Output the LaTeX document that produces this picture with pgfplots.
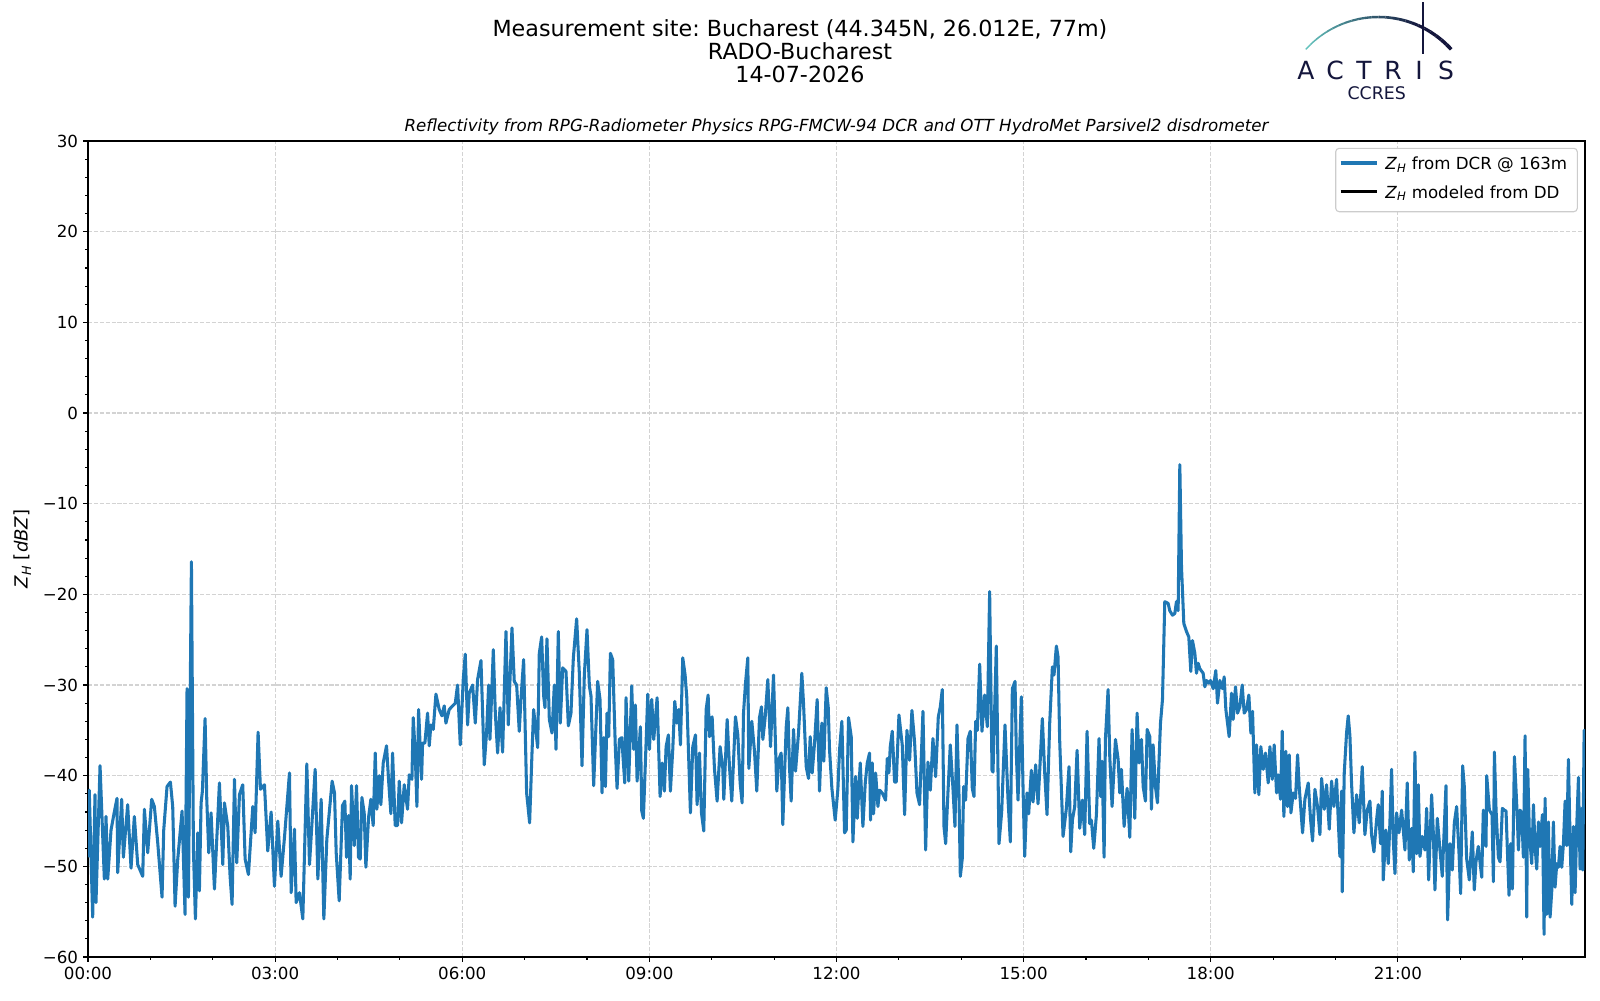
\documentclass[border=0pt]{standalone}
\usepackage{fontspec}
\setmainfont{DejaVu Sans}
\usepackage{pgfplots}
\pgfplotsset{compat=1.18}
\frenchspacing
\definecolor{tabblue}{HTML}{1F77B4}
\definecolor{lnavy}{HTML}{14163C}
\definecolor{lteal}{HTML}{62C2BC}
\definecolor{gridgray}{HTML}{D3D3D3}
\definecolor{legedge}{HTML}{CCCCCC}
\newcommand\ZH{\textit{Z}\textsubscript{\textit{H}}}
\begin{document}
\begin{tikzpicture}[x=0.72bp,y=-0.72bp]
\path[use as bounding box] (0,0) rectangle (1600,1000);
\begin{axis}[
  at={(63.36bp,-689.04bp)}, anchor=south west,
  scale only axis, width=1077.84bp, height=587.52bp,
  xmin=0, xmax=24, ymin=-60, ymax=30,
  xtick={0,3,...,21},
  xticklabels={00:00,03:00,06:00,09:00,12:00,15:00,18:00,21:00},
  minor xtick={1,2,4,5,7,8,10,11,13,14,16,17,19,20,22,23},
  ytick={-60,-50,...,30},
  yticklabels={−60,−50,−40,−30,−20,−10,0,10,20,30},
  minor y tick num=4,
  tick pos=left, tick align=outside,
  major tick length=3.5bp, minor tick length=2bp,
  every tick/.style={black, line width=0.8bp},
  axis line style={line width=0.8bp},
  grid=major,
  major grid style={gridgray, line width=0.8bp, dash pattern=on 2.96bp off 1.28bp},
  tick label style={font=\fontsize{12bp}{14bp}\selectfont},
  xticklabel style={inner sep=0pt, yshift=-3.5bp},
  yticklabel style={inner sep=0pt, xshift=-3.5bp},
]
\addplot[tabblue, line width=2.2bp, line join=round] coordinates {
(0,-49)(0.02,-41.6)(0.075,-55.6)(0.112,-42.1)(0.128,-54.0)(0.193,-38.9)(0.262,-51.4)(0.289,-44.5)(0.316,-51.4)(0.369,-46.0)
(0.422,-44.0)(0.465,-42.5)(0.476,-50.7)(0.540,-42.6)(0.567,-49.0)(0.636,-43.2)(0.690,-50.2)(0.743,-44.5)(0.797,-49.8)(0.877,-51.1)
(0.904,-43.7)(0.957,-48.5)(1.021,-42.6)(1.064,-43.4)(1.118,-47.4)(1.187,-53.4)(1.214,-46.0)(1.267,-41.2)(1.321,-40.7)(1.358,-43.4)
(1.396,-54.4)(1.439,-49.2)(1.508,-43.9)(1.556,-55.3)(1.588,-30.4)(1.610,-53.4)(1.658,-16.4)(1.690,-48.1)(1.722,-55.8)(1.760,-46.3)
(1.786,-52.7)(1.813,-43.0)(1.834,-41.7)(1.877,-33.7)(1.904,-42.6)(1.936,-48.5)(1.973,-44.1)(2.027,-52.5)(2.107,-40.8)(2.161,-49.8)
(2.187,-43.0)(2.241,-45.6)(2.278,-51.1)(2.310,-54.2)(2.348,-40.4)(2.385,-49.6)(2.428,-42.1)(2.481,-41.0)(2.519,-49.2)(2.572,-50.9)
(2.642,-43.4)(2.679,-46.3)(2.727,-35.2)(2.765,-41.5)(2.829,-41.0)(2.882,-48.3)(2.936,-44.0)(2.989,-52.2)(3.043,-45.0)(3.096,-51.1)
(3.150,-46.8)(3.230,-39.7)(3.257,-52.9)(3.310,-45.9)(3.337,-54.0)(3.390,-52.9)(3.444,-55.8)(3.508,-38.7)(3.551,-49.8)(3.642,-39.3)
(3.685,-51.4)(3.738,-42.6)(3.781,-55.8)(3.829,-47.0)(3.914,-40.6)(3.952,-41.9)(3.979,-48.5)
(4.027,-53.8)(4.080,-43.3)(4.118,-42.8)(4.145,-49.0)(4.177,-44.4)(4.203,-51.4)(4.225,-41.1)(4.268,-47.7)(4.305,-41.1)(4.337,-49.0)
(4.364,-49.2)(4.391,-42.4)(4.428,-44.1)(4.455,-50.1)(4.498,-44.6)(4.535,-42.6)(4.572,-45.5)(4.605,-37.5)(4.631,-43.7)(4.669,-40.0)
(4.695,-43.2)(4.733,-38.6)(4.786,-36.7)(4.818,-40.4)(4.856,-44.2)(4.883,-37.5)(4.925,-45.5)(4.963,-45.5)(4.990,-40.6)(5.027,-45.2)
(5.070,-41.0)(5.123,-43.7)(5.150,-39.9)(5.193,-40.4)(5.214,-33.6)(5.246,-37.5)(5.273,-43.4)(5.300,-32.7)(5.348,-40.4)(5.364,-36.4)
(5.401,-36.4)(5.444,-33.1)(5.471,-36.7)(5.497,-34.4)(5.535,-34.9)(5.578,-31.0)(5.631,-32.7)(5.674,-33.4)(5.711,-32.3)(5.738,-34.2)
(5.791,-32.7)(5.845,-32.3)(5.888,-32.0)(5.925,-30.0)(5.968,-36.6)(6.016,-29.4)(6.048,-26.6)(6.086,-34.4)(6.112,-30.9)(6.166,-30.0)
(6.209,-34.2)(6.246,-29.4)(6.300,-27.3)(6.353,-38.8)(6.391,-35.1)(6.423,-30.0)(6.444,-36.0)(6.498,-26.1)(6.530,-33.1)(6.567,-37.5)
(6.605,-32.5)(6.647,-37.4)(6.701,-24.1)(6.738,-34.4)(6.797,-23.7)(6.834,-29.6)(6.872,-30.0)(6.914,-35.1)(6.941,-31.6)(6.984,-27.2)
(7.032,-41.9)(7.080,-45.2)(7.118,-37.5)(7.144,-32.7)(7.209,-36.9)(7.235,-26.5)(7.273,-24.7)(7.305,-31.2)(7.326,-32.5)(7.358,-24.9)
(7.396,-33.8)(7.439,-35.3)(7.476,-30.0)(7.503,-37.1)(7.540,-24.1)(7.572,-34.2)(7.610,-28.1)(7.663,-28.5)(7.701,-34.5)(7.743,-33.1)
(7.781,-27.0)(7.834,-22.7)(7.877,-28.7)(7.920,-38.9)(7.957,-28.9)(8.000,-23.9)(8.038,-30.1)(8.064,-31.2)(8.107,-41.1)(8.171,-29.6)
(8.209,-31.6)(8.241,-41.9)(8.268,-35.8)(8.295,-41.2)(8.321,-33.1)(8.348,-35.7)(8.375,-26.5)(8.412,-27.2)(8.455,-37.1)(8.482,-41.4)
(8.519,-36.0)(8.557,-35.8)(8.605,-40.8)(8.626,-31.4)(8.669,-40.6)(8.717,-30.1)(8.749,-37.1)(8.776,-32.2)(8.803,-40.6)(8.856,-34.6)
(8.878,-43.9)(8.904,-44.7)(8.947,-36.4)(8.974,-31.0)(9.001,-37.1)(9.038,-31.6)(9.070,-36.0)(9.124,-31.4)(9.172,-42.3)(9.204,-38.6)
(9.241,-41.7)(9.268,-36.8)(9.305,-35.5)(9.337,-41.7)(9.375,-37.1)(9.407,-31.8)(9.439,-34.2)(9.471,-32.7)(9.498,-36.6)(9.535,-27.0)
(9.573,-28.9)(9.599,-31.3)(9.658,-44.1)(9.696,-36.8)(9.739,-35.5)(9.765,-43.2)(9.803,-37.5)(9.835,-44.1)(9.872,-46.1)(9.910,-32.7)
(9.942,-31.1)(9.963,-35.7)(10.006,-33.5)(10.043,-39.2)(10.086,-42.8)(10.134,-36.8)(10.177,-39.2)(10.193,-42.6)(10.247,-33.8)(10.284,-39.0)
(10.321,-42.8)(10.380,-33.5)(10.418,-35.5)(10.455,-40.8)(10.487,-43.0)(10.509,-33.1)(10.541,-29.8)(10.578,-27.0)(10.594,-39.2)(10.642,-34.0)
(10.685,-37.3)(10.722,-41.7)(10.765,-33.6)(10.797,-32.4)(10.819,-36.0)(10.856,-33.6)(10.899,-29.4)(10.942,-36.8)(10.990,-28.9)(11.043,-41.7)
(11.075,-38.2)(11.113,-37.5)(11.139,-45.4)(11.193,-34.7)(11.220,-32.5)(11.246,-39.0)(11.273,-42.8)(11.311,-34.9)(11.343,-39.5)(11.391,-35.3)
(11.444,-28.7)(11.471,-32.0)(11.514,-39.0)(11.551,-40.3)(11.578,-35.7)(11.610,-39.7)(11.648,-36.4)(11.690,-31.6)(11.728,-41.7)(11.765,-34.2)
(11.797,-38.4)(11.835,-30.3)(11.867,-32.4)(11.888,-37.1)(11.926,-41.4)(11.979,-44.9)(12.022,-41.5)(12.049,-37.1)(12.086,-34.0)(12.129,-46.3)
(12.156,-46.0)(12.193,-33.6)(12.236,-35.7)(12.263,-47.3)(12.306,-40.1)(12.332,-44.7)(12.381,-38.6)(12.423,-45.6)(12.461,-40.8)(12.493,-38.6)
(12.530,-37.5)(12.546,-44.9)(12.573,-38.6)(12.594,-44.2)(12.627,-39.7)(12.664,-43.4)(12.691,-41.6)(12.733,-41.9)(12.787,-42.7)(12.814,-38.1)
(12.840,-39.7)(12.862,-36.8)(12.894,-35.1)(12.931,-40.7)(12.958,-40.7)(13.001,-33.3)(13.028,-35.0)(13.054,-36.6)(13.092,-44.3)(13.129,-35.0)
(13.172,-38.3)(13.209,-32.8)(13.252,-36.3)(13.290,-41.9)(13.332,-43.2)(13.386,-32.9)(13.429,-48.2)(13.466,-38.5)(13.504,-41.6)(13.546,-35.9)
(13.589,-40.1)(13.632,-33.5)(13.664,-32.4)(13.696,-30.5)(13.723,-45.6)(13.750,-47.5)(13.787,-41.8)(13.824,-36.6)(13.867,-41.4)(13.899,-45.6)
(13.931,-34.4)(13.963,-41.9)(13.985,-51.1)(14.017,-49.1)(14.038,-41.2)(14.070,-42.7)(14.108,-35.9)(14.145,-35.1)(14.177,-41.4)(14.204,-42.3)
(14.231,-34.0)(14.258,-35.0)(14.295,-27.7)(14.332,-35.1)(14.375,-31.1)(14.418,-34.6)(14.455,-19.7)(14.493,-39.4)(14.509,-39.6)(14.562,-25.7)
(14.605,-47.5)(14.648,-44.0)(14.701,-34.4)(14.749,-42.5)(14.787,-47.3)(14.819,-30.4)(14.862,-29.6)(14.883,-37.5)(14.910,-42.7)(14.963,-31.3)
(14.990,-41.2)(15.017,-48.9)(15.054,-41.9)(15.081,-44.2)(15.124,-39.4)(15.151,-42.9)(15.193,-38.8)(15.231,-43.1)(15.300,-33.7)(15.338,-39.7)
(15.375,-44.3)(15.418,-34.2)(15.461,-28.0)(15.487,-28.9)(15.525,-25.7)(15.552,-26.9)(15.578,-36.1)(15.605,-41.4)(15.632,-46.7)(15.685,-43.6)
(15.728,-39.0)(15.755,-48.4)(15.782,-44.9)(15.819,-43.4)(15.857,-37.2)(15.899,-45.8)(15.942,-42.7)(15.979,-46.5)(16.017,-35.1)(16.060,-45.3)
(16.086,-44.9)(16.124,-48.0)(16.167,-44.3)(16.209,-35.9)(16.236,-42.3)(16.258,-38.4)(16.290,-49.0)(16.311,-36.0)(16.354,-30.5)(16.381,-37.9)
(16.418,-43.4)(16.472,-36.0)(16.515,-38.2)(16.541,-41.9)(16.568,-39.3)(16.611,-45.6)(16.659,-41.4)(16.702,-46.8)(16.739,-34.9)(16.782,-44.7)
(16.819,-33.1)(16.851,-38.6)(16.889,-36.0)(16.916,-41.2)(16.953,-42.8)(16.980,-34.9)(17.023,-35.7)(17.049,-43.7)(17.076,-36.6)(17.113,-41.2)
(17.146,-43.0)(17.167,-39.0)(17.194,-34.2)(17.226,-31.6)(17.263,-20.8)(17.317,-21.0)(17.343,-21.8)(17.386,-22.3)(17.424,-22.1)(17.450,-20.8)
(17.477,-21.8)(17.504,-5.7)(17.531,-17.0)(17.568,-23.2)(17.611,-24.1)(17.648,-24.7)(17.680,-28.5)(17.707,-25.1)(17.745,-26.5)(17.771,-28.7)
(17.798,-27.6)(17.825,-28.2)(17.878,-28.7)(17.905,-30.2)(17.932,-29.5)(17.969,-29.8)(17.996,-29.5)(18.039,-30.4)(18.081,-28.4)(18.108,-32.0)
(18.146,-29.5)(18.188,-30.4)(18.215,-29.1)(18.242,-32.7)(18.295,-35.7)(18.333,-30.9)(18.359,-33.8)(18.397,-30.2)(18.429,-33.1)(18.466,-32.4)
(18.504,-30.0)(18.536,-33.1)(18.573,-32.7)(18.611,-31.1)(18.643,-35.3)(18.670,-32.9)(18.707,-41.9)(18.734,-36.6)(18.771,-42.1)(18.803,-36.8)
(18.841,-39.3)(18.878,-37.5)(18.921,-40.8)(18.948,-36.8)(18.985,-40.4)(19.017,-36.6)(19.055,-41.9)(19.081,-39.9)(19.119,-42.6)(19.146,-35.1)
(19.172,-44.5)(19.204,-37.3)(19.231,-43.4)(19.258,-37.7)(19.285,-44.1)(19.322,-41.9)(19.359,-42.5)(19.392,-37.7)(19.418,-41.2)(19.472,-46.3)
(19.509,-42.6)(19.563,-40.8)(19.600,-44.8)(19.632,-47.2)(19.670,-41.5)(19.712,-43.4)(19.750,-46.5)(19.777,-40.3)(19.819,-43.7)(19.857,-41.0)
(19.900,-45.9)(19.937,-40.6)(19.974,-43.4)(20.017,-40.4)(20.044,-44.9)(20.070,-48.9)(20.097,-41.7)(20.108,-52.8)(20.140,-39.7)(20.177,-35.3)
(20.204,-33.4)(20.231,-35.6)(20.257,-40.8)(20.295,-46.3)(20.338,-42.1)(20.380,-45.2)(20.429,-39.0)(20.471,-46.5)(20.509,-43.8)(20.552,-42.8)
(20.578,-46.5)(20.616,-48.4)(20.658,-44.9)(20.685,-43.2)(20.723,-47.5)(20.749,-41.7)(20.765,-51.5)(20.808,-46.0)(20.846,-49.7)(20.872,-45.2)
(20.899,-39.3)(20.926,-47.1)(20.953,-50.8)(20.979,-44.1)(21.017,-46.3)(21.060,-43.8)(21.113,-48.2)(21.150,-40.8)(21.183,-49.3)(21.220,-45.8)
(21.247,-50.6)(21.273,-37.4)(21.300,-48.6)(21.327,-41.0)(21.354,-48.9)(21.391,-46.7)(21.434,-48.2)(21.461,-43.6)(21.493,-51.5)(21.541,-42.1)
(21.568,-46.3)(21.594,-52.6)(21.632,-44.7)(21.675,-48.2)(21.712,-51.1)(21.771,-41.1)(21.797,-55.9)(21.835,-47.5)(21.872,-50.4)(21.905,-45.2)
(21.942,-43.4)(21.979,-48.4)(22.006,-53.0)(22.038,-38.9)(22.065,-41.2)(22.102,-49.1)(22.145,-51.5)(22.193,-46.2)(22.225,-52.6)(22.252,-49.5)
(22.289,-47.8)(22.344,-51.2)(22.370,-43.8)(22.413,-47.8)(22.424,-40.0)(22.467,-43.8)(22.510,-44.3)(22.531,-51.7)(22.547,-37.4)(22.574,-43.8)
(22.611,-49.0)(22.638,-49.5)(22.675,-43.6)(22.707,-43.8)(22.734,-43.9)(22.761,-49.3)(22.782,-53.2)(22.809,-47.5)(22.836,-52.5)(22.868,-37.9)
(22.916,-44.7)(22.932,-48.2)(22.959,-43.8)(22.985,-44.1)(23.012,-49.0)(23.039,-35.6)(23.066,-55.6)(23.082,-39.3)(23.108,-46.4)(23.146,-49.7)
(23.173,-43.2)(23.199,-47.8)(23.226,-50.3)(23.253,-45.1)(23.280,-47.8)(23.317,-44.3)(23.344,-57.5)(23.360,-42.5)(23.387,-55.3)(23.413,-45.1)
(23.440,-55.6)(23.467,-52.7)(23.493,-45.1)(23.520,-52.3)(23.547,-49.7)(23.574,-50.1)(23.600,-47.8)(23.627,-50.1)(23.654,-47.5)(23.681,-42.8)
(23.707,-47.7)(23.734,-38.2)(23.761,-47.1)(23.788,-54.2)(23.814,-45.6)(23.841,-52.9)(23.868,-45.4)(23.895,-40.2)(23.921,-50.3)(23.948,-43.6)
(23.964,-50.4)(23.986,-35.0)(24.0,-36.0)
};
\end{axis}
% titles
\node[anchor=base, font=\fontsize{16bp}{19bp}\selectfont] at (800,36.7) {Measurement site: Bucharest (44.345N, 26.012E, 77m)};
\node[anchor=base, font=\fontsize{16bp}{19bp}\selectfont] at (800,59.2) {RADO-Bucharest};
\node[anchor=base, font=\fontsize{16bp}{19bp}\selectfont] at (800,82.5) {14-07-2026};
\node[anchor=base, font=\fontsize{12bp}{14bp}\selectfont\itshape] at (836.5,131.5) {Reflectivity from RPG-Radiometer Physics RPG-FMCW-94 DCR and OTT HydroMet Parsivel2 disdrometer};
% y label
\node[rotate=90, font=\fontsize{13bp}{15bp}\selectfont] at (22.5,549) {\ZH{} [\textit{dBZ}]};
% legend
\draw[legedge, line width=0.8bp, rounded corners=2.5bp, fill=white] (1335.7,148.3) rectangle (1577.3,211.7);
\draw[tabblue, line width=2.2bp] (1340.7,163) -- (1376.7,163);
\node[anchor=base west, inner sep=0pt, font=\fontsize{12bp}{14bp}\selectfont] at (1385,169.5) {\ZH{} from DCR @ 163m};
\draw[black, line width=2.2bp] (1340.7,191.5) -- (1376.7,191.5);
\node[anchor=base west, inner sep=0pt, font=\fontsize{12bp}{14bp}\selectfont] at (1385,198) {\ZH{} modeled from DD};
% logo
\foreach \i in {0,...,23} {
  \pgfmathsetmacro\aa{-138+4*\i}
  \pgfmathsetmacro\bb{-138+4*(\i+1)}
  \pgfmathsetmacro\pp{min(100,130*\i/23)}
  \pgfmathsetmacro\lw{1.0+1.6*\i/23}
  \draw[line width=\lw bp, color=lnavy!\pp!lteal] ([shift={(\aa:97.8)}]1378.5,114.8) arc[start angle=\aa, end angle=\bb, radius=97.8];
}
\draw[lnavy, line width=1.6bp] (1423.3,2) -- (1423.3,54);
\foreach \x/\l in {1306/A,1335/C,1364/T,1393/R,1419/I,1446/S}
  \node[anchor=base, text=lnavy, inner sep=0pt, font=\fontsize{18bp}{20bp}\selectfont] at (\x,79) {\l};
\node[anchor=base, text=lnavy, inner sep=0pt, font=\fontsize{12.5bp}{14bp}\selectfont] at (1376.7,99) {CCRES};
\end{tikzpicture}
\end{document}
